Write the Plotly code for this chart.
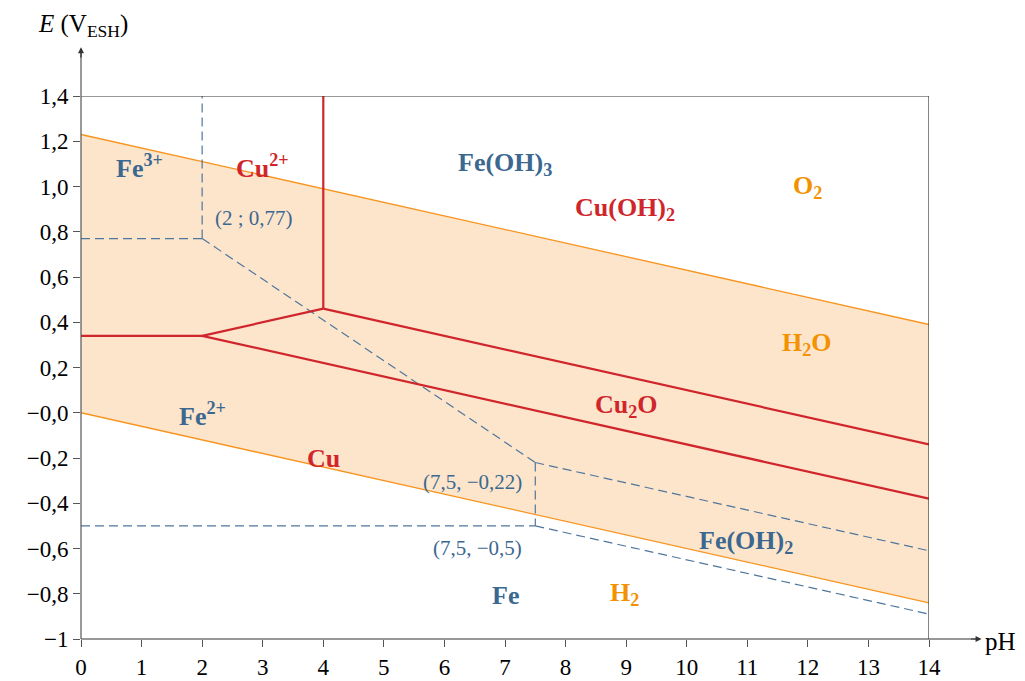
import plotly.graph_objects as go

# Water stability domain (V vs pH)
ph_ends = [0, 14]
o2_line = [1.23, 0.39]
h2_line = [0.0, -0.84]

# Copper boundaries (solid red)
cu_vert_x = [4, 4];        cu_vert_y = [0.46, 1.4]
cu_h_x = [0, 2];           cu_h_y = [0.34, 0.34]
cu_2o_x = [2, 4];          cu_2o_y = [0.34, 0.46]
cuoh_x = [4, 14];          cuoh_y = [0.46, -0.14]
cu2o_cu_x = [2, 14];       cu2o_cu_y = [0.34, -0.38]

# Iron boundaries (dashed blue)
fe_segments = [
    ([0, 2], [0.77, 0.77]),
    ([2, 2], [0.77, 1.4]),
    ([2, 7.5], [0.77, -0.22]),
    ([7.5, 7.5], [-0.22, -0.5]),
    ([0, 7.5], [-0.5, -0.5]),
    ([7.5, 14], [-0.22, -0.61]),
    ([7.5, 14], [-0.5, -0.89]),
]

# Tick labels
x_ticks = list(range(0, 15))
y_tickvals = [-1, -0.8, -0.6, -0.4, -0.2, 0, 0.2, 0.4, 0.6, 0.8, 1.0, 1.2, 1.4]
y_ticktext = ["\u22121", "\u22120,8", "\u22120,6", "\u22120,4", "\u22120,2", "\u22120,0",
              "0,2", "0,4", "0,6", "0,8", "1,0", "1,2", "1,4"]

# Species labels
BLUE = "#3b6890"
RED = "#d0262b"
ORANGE = "#f39200"
labels = [
    ("Fe<sup>3+</sup>", 0.97, 1.09, BLUE),
    ("Cu<sup>2+</sup>", 2.99, 1.09, RED),
    ("Fe(OH)<sub>3</sub>", 7.0, 1.10, BLUE),
    ("Cu(OH)<sub>2</sub>", 8.98, 0.90, RED),
    ("O<sub>2</sub>", 11.99, 1.0, ORANGE),
    ("H<sub>2</sub>O", 11.99, 0.305, ORANGE),
    ("Cu<sub>2</sub>O", 9.0, 0.03, RED),
    ("Fe<sup>2+</sup>", 2.0, -0.006, BLUE),
    ("Cu", 4.0, -0.204, RED),
    ("Fe(OH)<sub>2</sub>", 10.98, -0.57, BLUE),
    ("Fe", 7.0, -0.806, BLUE),
    ("H<sub>2</sub>", 8.98, -0.80, ORANGE),
]
point_labels = [
    ("(2 ; 0,77)", 2.85, 0.86),
    ("(7,5, \u22120,22)", 6.47, -0.306),
    ("(7,5, \u22120,5)", 6.55, -0.598),
]

FONT = "Liberation Serif"
fig = go.Figure()

# water domain fill
fig.add_trace(go.Scatter(
    x=[ph_ends[0], ph_ends[1], ph_ends[1], ph_ends[0]],
    y=[o2_line[0], o2_line[1], h2_line[1], h2_line[0]],
    fill="toself", fillcolor="#fde5cc", mode="lines",
    line=dict(width=0), hoverinfo="skip", showlegend=False))
fig.add_trace(go.Scatter(x=ph_ends, y=o2_line, mode="lines",
                         line=dict(color="#f7941d", width=1.3), showlegend=False))
fig.add_trace(go.Scatter(x=ph_ends, y=h2_line, mode="lines",
                         line=dict(color="#f7941d", width=1.3), showlegend=False))

for xs, ys in fe_segments:
    fig.add_trace(go.Scatter(x=xs, y=ys, mode="lines",
                             line=dict(color="#4f769c", width=1.2, dash="9px,5px"),
                             showlegend=False))

for xs, ys in [(cu_vert_x, cu_vert_y), (cu_h_x, cu_h_y), (cu_2o_x, cu_2o_y),
               (cuoh_x, cuoh_y), (cu2o_cu_x, cu2o_cu_y)]:
    fig.add_trace(go.Scatter(x=xs, y=ys, mode="lines",
                             line=dict(color=RED, width=2.2), showlegend=False))

for txt, x, y, c in labels:
    fig.add_annotation(x=x, y=y, text="<b>" + txt + "</b>", showarrow=False,
                       font=dict(family=FONT, size=26, color=c))
for txt, x, y in point_labels:
    fig.add_annotation(x=x, y=y, text=txt, showarrow=False,
                       font=dict(family=FONT, size=21, color=BLUE))

# frame: top and right
fig.add_shape(type="line", xref="x", yref="y", x0=0, x1=14, y0=1.4, y1=1.4,
              line=dict(color="#333333", width=1.2))
fig.add_shape(type="line", xref="x", yref="y", x0=14, x1=14, y0=-1, y1=1.4,
              line=dict(color="#333333", width=1.2))
# axes with arrows
fig.add_shape(type="line", xref="paper", yref="paper", x0=0, x1=1.057, y0=0, y1=0,
              line=dict(color="#333333", width=1.2))
fig.add_shape(type="line", xref="paper", yref="paper", x0=0, x1=0, y0=0, y1=1.085,
              line=dict(color="#555555", width=1.2))
fig.add_annotation(xref="paper", yref="paper", x=1.062, y=0, ax=-12, ay=0, text="",
                   showarrow=True, arrowhead=2, arrowsize=1, arrowwidth=1.2,
                   arrowcolor="#333333")
fig.add_annotation(xref="paper", yref="paper", x=0, y=1.09, ax=0, ay=12, text="",
                   showarrow=True, arrowhead=2, arrowsize=1, arrowwidth=1.2,
                   arrowcolor="#333333")
fig.add_annotation(xref="paper", yref="paper", x=1.064, y=-0.004, text="pH",
                   showarrow=False, xanchor="left", yanchor="middle",
                   font=dict(family=FONT, size=25, color="black"))
fig.add_annotation(xref="paper", yref="paper", x=0.002, y=1.13,
                   text="<i>E</i> (V<sub>ESH</sub>)",
                   showarrow=False, yanchor="middle", xanchor="center",
                   font=dict(family=FONT, size=25, color="black"))

fig.update_xaxes(range=[0, 14], tickvals=x_ticks, ticks="outside", ticklen=7,
                 tickcolor="#555555", showgrid=False, zeroline=False, showline=False,
                 automargin=False,
                 tickfont=dict(family=FONT, size=23, color="black"))
fig.update_yaxes(range=[-1, 1.4], tickvals=y_tickvals, ticktext=y_ticktext,
                 ticks="outside", ticklen=7, tickcolor="#555555", showgrid=False,
                 zeroline=False, showline=False, automargin=False,
                 tickfont=dict(family=FONT, size=23, color="black"))
fig.update_layout(width=1017, height=673, plot_bgcolor="white", paper_bgcolor="white",
                  margin=dict(l=73, r=96, t=88, b=42), showlegend=False)
fig.write_html("out.html")
